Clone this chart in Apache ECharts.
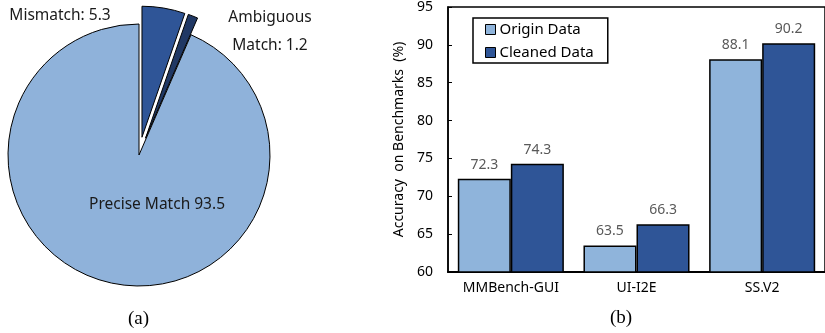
<!DOCTYPE html>
<html>
<head>
<meta charset="utf-8">
<script src="https://cdn.jsdelivr.net/npm/echarts@6/dist/echarts.min.js"></script>
<style>
  html, body { margin: 0; padding: 0; background: #fff; }
  #chart { width: 825px; height: 333px; }
</style>
</head>
<body>
<div id="chart"></div>
<script>
// (a) match breakdown
const pieNames = ['Mismatch', 'Ambiguous Match', 'Precise Match'];
const pieLabels = ['Mismatch: ', 'Ambiguous\nMatch: ', 'Precise Match '];
const pieValues = [5.3, 1.2, 93.5];
const pieColors = ['#2F5597', '#203864', '#8FB2DA'];

// (b) benchmark accuracy
const benchmarks = ['MMBench-GUI', 'UI-I2E', 'SS.V2'];
const originData = [72.3, 63.5, 88.1];
const cleanedData = [74.3, 66.3, 90.2];
const seriesNames = ['Origin Data', 'Cleaned Data'];
const barColors = ['#8FB4DB', '#2F5597'];

const FONT = '"Noto Sans", sans-serif';
const chart = echarts.init(document.getElementById('chart'), null, { renderer: 'canvas' });

// anchor point of each pie slice's text
const pieLabelPos = [[60, 16], [270, 32], [157, 205]];

const pieTexts = pieValues.map(function (v, i) {
  return {
    type: 'text',
    x: pieLabelPos[i][0], y: pieLabelPos[i][1],
    z: 100,
    style: {
      text: pieLabels[i] + v,
      font: '15.5px ' + FONT,
      fill: '#1a1a1a',
      align: 'center',
      verticalAlign: 'middle',
      lineHeight: 28
    }
  };
});

chart.setOption({
  animation: false,
  textStyle: { fontFamily: FONT },
  grid: {
    left: 448, top: 6, width: 384, height: 266,
    show: true, borderColor: '#000', borderWidth: 1.5, backgroundColor: 'transparent'
  },
  legend: {
    data: seriesNames,
    orient: 'vertical',
    left: 473, top: 18,
    padding: [4, 14, 3, 12],
    itemWidth: 10, itemHeight: 10, itemGap: 8,
    borderColor: '#000', borderWidth: 1.5,
    icon: 'rect',
    itemStyle: { borderColor: '#000', borderWidth: 1 },
    textStyle: { fontSize: 15, color: '#000', fontFamily: FONT, padding: [0, 0, 0, -1] }
  },
  xAxis: {
    type: 'category',
    data: benchmarks,
    axisLine: { lineStyle: { color: '#000', width: 2 } },
    axisTick: { show: false },
    axisLabel: { color: '#000', fontSize: 14, margin: 9, fontFamily: FONT }
  },
  yAxis: {
    type: 'value',
    min: 60, max: 95, interval: 5,
    name: 'Accuracy  on Benchmarks  (%)',
    nameLocation: 'middle',
    nameGap: 42,
    nameTextStyle: { color: '#000', fontSize: 14, fontFamily: FONT },
    axisLine: { show: true, lineStyle: { color: '#000', width: 1.5 } },
    axisTick: { show: true, inside: true, length: 4, lineStyle: { color: '#000' } },
    splitLine: { show: false },
    axisLabel: { color: '#000', fontSize: 14, margin: 15, fontFamily: FONT }
  },
  series: [
    {
      type: 'pie',
      center: [139, 155],
      radius: [0, 131],
      startAngle: 90,
      clockwise: true,
      selectedMode: 'multiple',
      selectedOffset: 18,
      silent: true,
      itemStyle: { borderColor: '#000', borderWidth: 1 },
      label: { show: false },
      labelLine: { show: false },
      data: pieNames.map(function (n, i) {
        return {
          name: n, value: pieValues[i], selected: i < 2,
          itemStyle: { color: pieColors[i] }
        };
      })
    },
    {
      name: seriesNames[0],
      type: 'bar',
      data: originData,
      barGap: '0%',
      barCategoryGap: '15.6%',
      itemStyle: { color: barColors[0], borderColor: '#000', borderWidth: 1.5 },
      label: { show: true, position: 'top', distance: 7, color: '#595959', fontSize: 14, fontFamily: FONT }
    },
    {
      name: seriesNames[1],
      type: 'bar',
      data: cleanedData,
      barGap: '0%',
      barCategoryGap: '15.6%',
      itemStyle: { color: barColors[1], borderColor: '#000', borderWidth: 1.5 },
      label: { show: true, position: 'top', distance: 7, color: '#595959', fontSize: 14, fontFamily: FONT }
    }
  ],
  graphic: pieTexts.concat([
    { type: 'text', left: 128, top: 310, style: { text: '(a)', font: '19px "Liberation Serif", serif', fill: '#000' } },
    { type: 'text', left: 610, top: 309, style: { text: '(b)', font: '19px "Liberation Serif", serif', fill: '#000' } }
  ])
});
</script>
</body>
</html>
